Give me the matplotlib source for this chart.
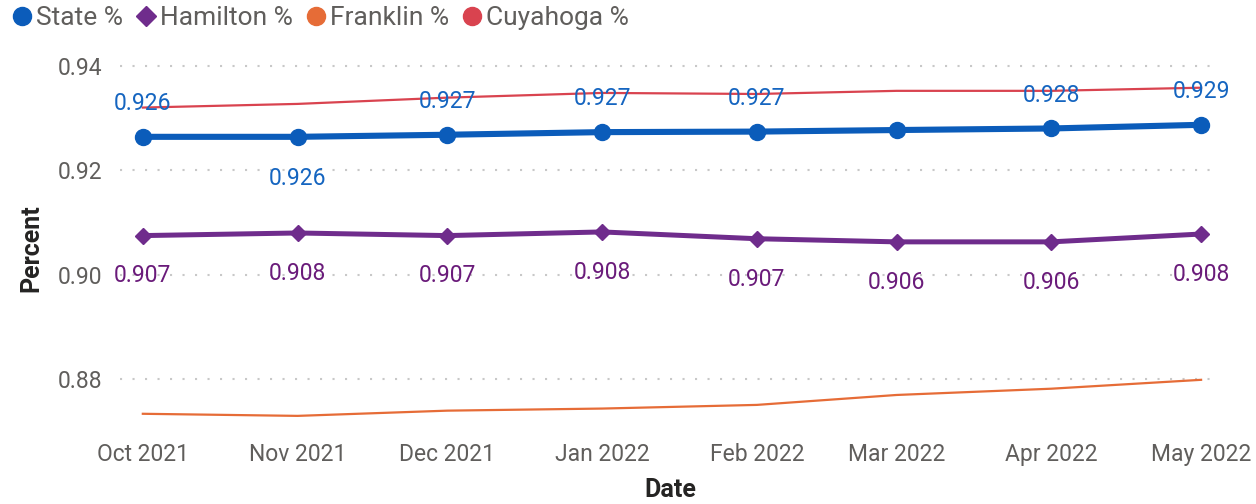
import matplotlib
matplotlib.use("Agg")
import matplotlib.pyplot as plt
from matplotlib.lines import Line2D
import pandas as pd

# monthly percentages by region
dates = pd.to_datetime(["2021-10-01", "2021-11-01", "2021-12-01", "2022-01-01",
                        "2022-02-01", "2022-03-01", "2022-04-01", "2022-05-01"])
tick_labels = ["Oct 2021", "Nov 2021", "Dec 2021", "Jan 2022",
               "Feb 2022", "Mar 2022", "Apr 2022", "May 2022"]
state = [0.9264, 0.9264, 0.9268, 0.9273, 0.9274, 0.9277, 0.9280, 0.9287]
hamilton = [0.9075, 0.9080, 0.9075, 0.9082, 0.9069, 0.9063, 0.9063, 0.9078]
franklin = [0.8734, 0.8730, 0.8740, 0.8744, 0.8751, 0.8770, 0.8782, 0.8799]
cuyahoga = [0.9320, 0.9327, 0.9339, 0.9348, 0.9346, 0.9352, 0.9352, 0.9358]

# which State labels are shown (Power BI hid Mar), and where they sit
state_label_pos = ["above", "below", "above", "above", "above", None, "above", "above"]

plt.rcParams["font.family"] = ["Roboto", "DejaVu Sans"]

c_state = "#0B5CBA"
c_ham = "#6F2C8C"
c_frank = "#E66C37"
c_cuy = "#D9434F"
grey = "#605E5C"

fig = plt.figure(figsize=(12.56, 5.04), dpi=100)
ax = fig.add_axes([0.0955, 0.151, 0.8727, 0.760])

ax.plot(dates, cuyahoga, color=c_cuy, lw=1.6, zorder=2)
ax.plot(dates, franklin, color=c_frank, lw=1.6, zorder=2)
ax.plot(dates, hamilton, color=c_ham, lw=3.6, marker="D", ms=8, zorder=3)
ax.plot(dates, state, color=c_state, lw=4.4, marker="o", ms=11.5, zorder=4)

for d, v, pos in zip(dates, state, state_label_pos):
    if pos is None:
        continue
    off = 24 if pos == "above" else -30
    ax.annotate(f"{v:.3f}", (d, v), xytext=(0, off), textcoords="offset points",
                ha="center", va="center", color="#1565C0", fontsize=16.5, zorder=5)

for d, v in zip(dates, hamilton):
    ax.annotate(f"{v:.3f}", (d, v), xytext=(0, -29), textcoords="offset points",
                ha="center", va="center", color="#6A1B7A", fontsize=16.5, zorder=5)

ax.set_ylim(0.8707, 0.944)
ax.set_xlim(pd.Timestamp("2021-09-26 10:00"), pd.Timestamp("2022-05-04"))
ax.set_yticks([0.88, 0.90, 0.92, 0.94])
ax.set_yticklabels(["0.88", "0.90", "0.92", "0.94"])
ax.set_xticks(dates)
ax.set_xticklabels(tick_labels)
ax.tick_params(length=0, labelsize=16.5, colors=grey, pad=11)
ax.tick_params(axis="y", pad=13)

ax.grid(axis="y", color="#C8C8C8", linestyle=(0, (1, 5)), lw=1.5)
ax.grid(axis="x", visible=False)
for s in ax.spines.values():
    s.set_visible(False)

ax.set_ylabel("Percent", fontsize=18, fontweight="bold", color="#252423")
ax.yaxis.set_label_coords(31 / 1256, 1 - 248 / 504, transform=fig.transFigure)
ax.yaxis.label.set_va("center")
ax.set_xlabel("Date", fontsize=18, fontweight="bold", color="#252423")
ax.xaxis.set_label_coords(670 / 1256, 1 - 490 / 504, transform=fig.transFigure)
ax.xaxis.label.set_va("center")

# legend
handles = [
    Line2D([], [], color=c_state, marker="o", ls="", ms=13),
    Line2D([], [], color=c_ham, marker="D", ls="", ms=10),
    Line2D([], [], color=c_frank, marker="o", ls="", ms=13),
    Line2D([], [], color=c_cuy, marker="o", ls="", ms=13),
]
fig.legend(handles, ["State %", "Hamilton %", "Franklin %", "Cuyahoga %"],
           loc="upper left", bbox_to_anchor=(-0.012, 1.035), ncol=4, frameon=False,
           fontsize=19, labelcolor=grey, handletextpad=0.05, columnspacing=0.35,
           handlelength=1.0)

fig.savefig("out.png", dpi=100)
